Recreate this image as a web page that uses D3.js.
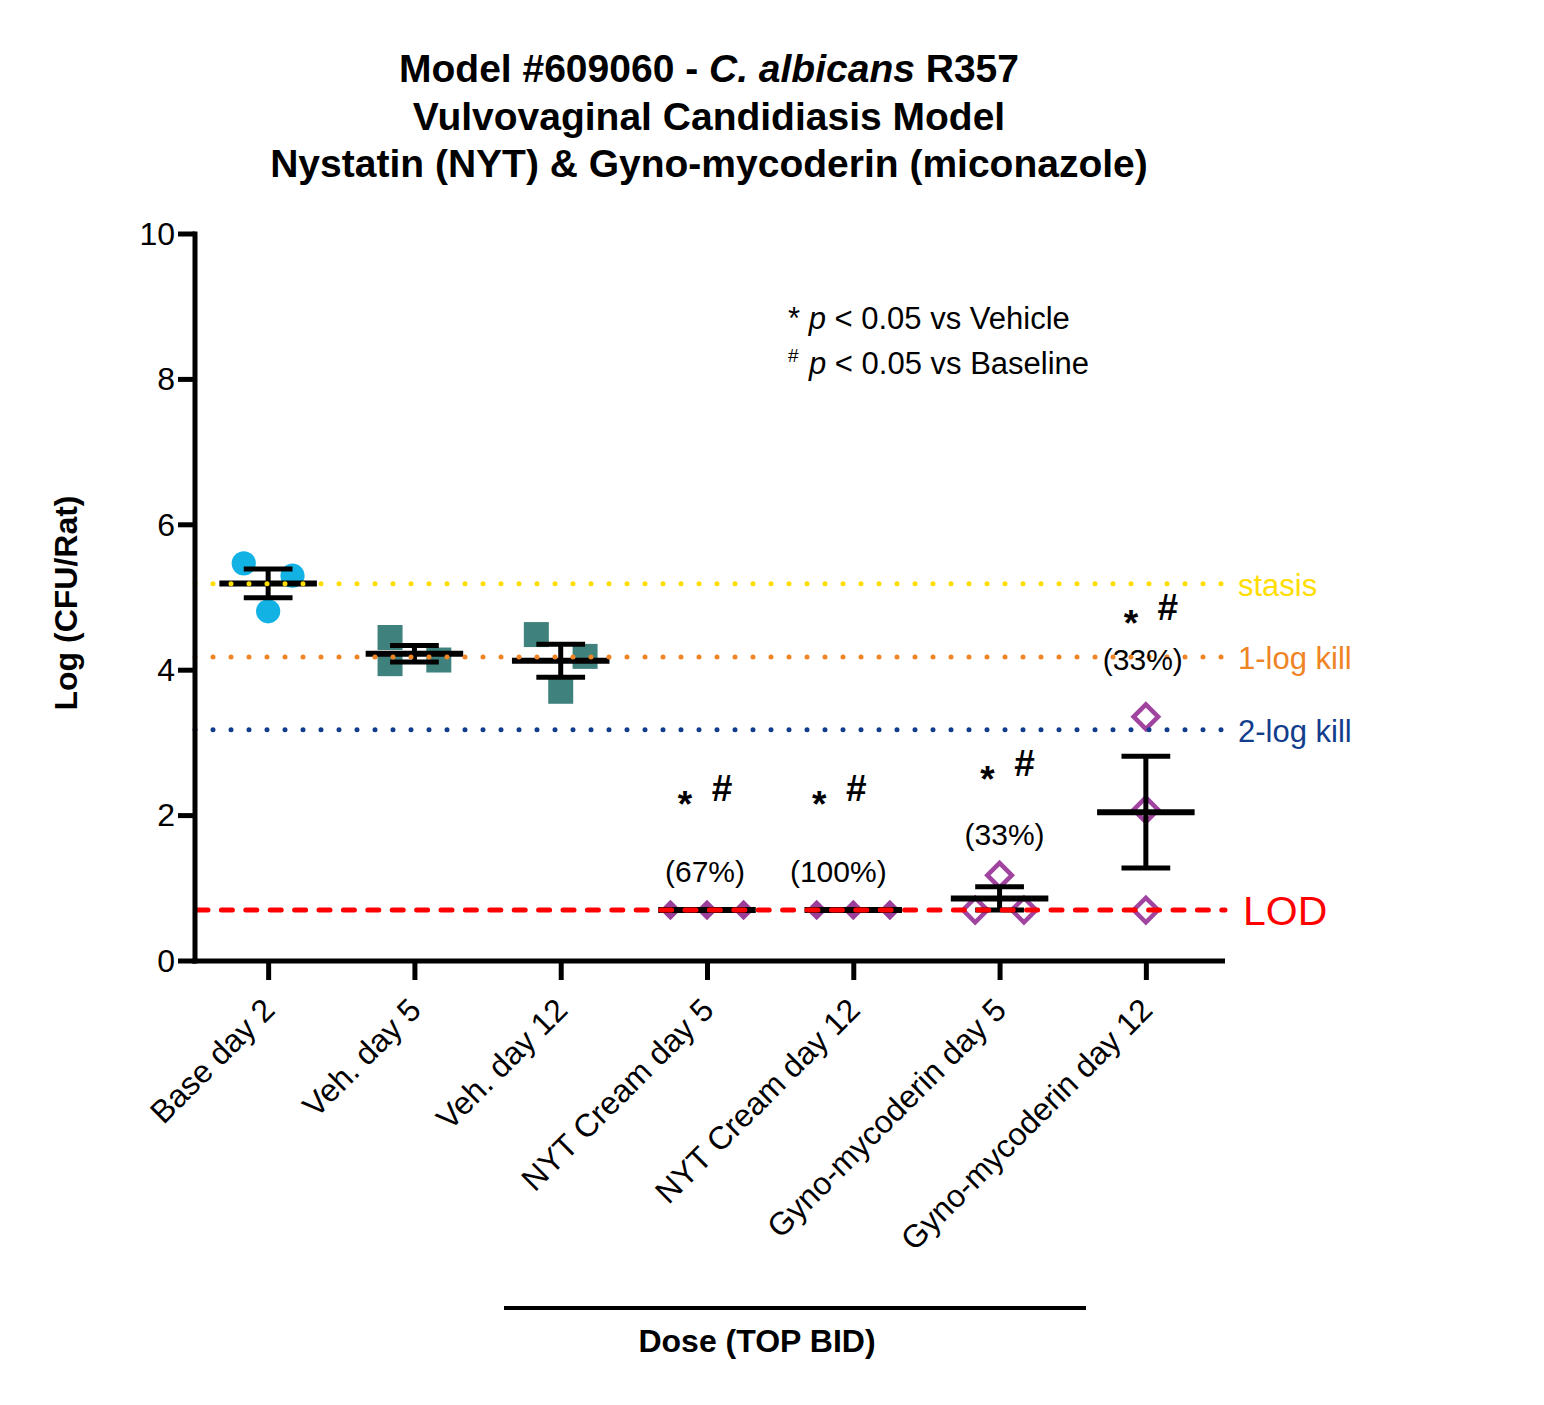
<!DOCTYPE html>
<html>
<head>
<meta charset="utf-8">
<script src="https://cdn.jsdelivr.net/npm/d3@7"></script>
<style>
  body { margin: 0; background: #fff; }
  text { font-family: "Liberation Sans", Arial, sans-serif; }
</style>
</head>
<body>
<svg id="chart" width="1544" height="1405"></svg>
<script>
// groups along the x axis
var categories = ["Base day 2", "Veh. day 5", "Veh. day 12", "NYT Cream day 5",
  "NYT Cream day 12", "Gyno-mycoderin day 5", "Gyno-mycoderin day 12"];

// log CFU / rat, one value per animal
var baseDay2 = [5.47, 5.30, 4.81];
var vehDay5 = [4.45, 4.09, 4.14];
var vehDay12 = [4.49, 4.19, 3.71];
var nytDay5 = [0.70, 0.70, 0.70];
var nytDay12 = [0.70, 0.70, 0.70];
var gynoDay5 = [1.18, 0.70, 0.70];
var gynoDay12 = [3.36, 2.08, 0.70];

var yTicks = [0, 2, 4, 6, 8, 10];

// reference levels
var refLevels = [5.19, 4.18, 3.18];
var refLabels = ["stasis", "1-log kill", "2-log kill"];
var lodLevel = 0.70;

// significance marks and % below LOD
var sigGroups = ["NYT Cream day 5", "NYT Cream day 12", "Gyno-mycoderin day 5", "Gyno-mycoderin day 12"];
var sigLevels = [2.20, 2.20, 2.545, 4.69];
var pctLabels = ["(67%)", "(100%)", "(33%)", "(33%)"];
var pctLevels = [1.09, 1.09, 1.595, 4.00];

// hand placement of the annotations (px, relative to the tick)
var sigNudge = [0, -12, 10, 7];
var pctNudge = [-2, -15, 5, -3];

var series = [baseDay2, vehDay5, vehDay12, nytDay5, nytDay12, gynoDay5, gynoDay12];

var refColors = ["#FFDD00", "#EE8424", "#123D8C"];
var lodColor = "#FF0000";
var markStyles = [
  { type: d3.symbolCircle, size: 460, fill: "#12B3E4", stroke: "none", rot: 0 },
  { type: d3.symbolSquare, size: 625, fill: "#3F827D", stroke: "none", rot: 0 },
  { type: d3.symbolSquare, size: 625, fill: "#3F827D", stroke: "none", rot: 0 },
  { type: d3.symbolSquare, size: 210, fill: "#9A3E9A", stroke: "none", rot: 45 },
  { type: d3.symbolSquare, size: 210, fill: "#9A3E9A", stroke: "none", rot: 45 },
  { type: d3.symbolSquare, size: 300, fill: "#fff", stroke: "#A044A0", rot: 45 },
  { type: d3.symbolSquare, size: 300, fill: "#fff", stroke: "#A044A0", rot: 45 }
];

var svg = d3.select("#chart");

var x = d3.scalePoint().domain(categories).range([195, 1219]).padding(0.5);
var y = d3.scaleLinear().domain([0, 10]).range([961, 234]);
var step = x.step();
var symSize = 25;

// simple column scatter: close values share a row and spread across the band
function swarm(values) {
  var order = d3.range(values.length).sort(function (a, b) { return values[b] - values[a]; });
  var rows = [];
  order.forEach(function (i) {
    var row = rows[rows.length - 1];
    if (row && Math.abs(y(values[row[0]]) - y(values[i])) < symSize - 1) row.push(i);
    else rows.push([i]);
  });
  var off = [], placed = [];
  rows.forEach(function (row) {
    if (row.length > 1) {
      row.forEach(function (i, j) {
        off[i] = step * ((j + 1) / (row.length + 1) - 0.5);
        placed.push(i);
      });
    } else {
      var i = row[0];
      var cands = [0, -step / 6, step / 6, -step / 3, step / 3];
      var pick = cands.find(function (c) {
        return placed.every(function (p) {
          return Math.abs(off[p] - c) >= symSize || Math.abs(y(values[p]) - y(values[i])) >= symSize;
        });
      });
      off[i] = pick === undefined ? 0 : pick;
      placed.push(i);
    }
  });
  return off;
}

// title
var title = svg.append("text")
  .attr("text-anchor", "middle")
  .attr("font-weight", "bold")
  .attr("font-size", 39);
var t1 = title.append("tspan").attr("x", 709).attr("y", 82);
t1.append("tspan").text("Model #609060 - ");
t1.append("tspan").attr("font-style", "italic").text("C. albicans");
t1.append("tspan").text(" R357");
title.append("tspan").attr("x", 709).attr("y", 130).text("Vulvovaginal Candidiasis Model");
title.append("tspan").attr("x", 709).attr("y", 177).text("Nystatin (NYT) & Gyno-mycoderin (miconazole)");

// points
series.forEach(function (vals, gi) {
  var cx = x(categories[gi]);
  var st = markStyles[gi];
  var off = swarm(vals);
  var sym = d3.symbol().type(st.type).size(st.size);
  svg.append("g").selectAll("path")
    .data(vals)
    .join("path")
    .attr("d", sym)
    .attr("transform", function (d, i) {
      return "translate(" + (cx + off[i]) + "," + y(d) + ") rotate(" + st.rot + ")";
    })
    .attr("fill", st.fill)
    .attr("stroke", st.stroke)
    .attr("stroke-width", st.stroke === "none" ? 0 : 4.5);
});

// mean and SEM
series.forEach(function (vals, gi) {
  var cx = x(categories[gi]);
  var m = d3.mean(vals);
  var sem = d3.deviation(vals) / Math.sqrt(vals.length);
  var g = svg.append("g").attr("stroke", "#000");
  g.append("line")
    .attr("x1", cx).attr("x2", cx)
    .attr("y1", y(m + sem)).attr("y2", y(m - sem))
    .attr("stroke-width", 5);
  [m + sem, m - sem].forEach(function (v) {
    g.append("line")
      .attr("x1", cx - step / 6).attr("x2", cx + step / 6)
      .attr("y1", y(v)).attr("y2", y(v))
      .attr("stroke-width", 5);
  });
  g.append("line")
    .attr("x1", cx - step / 3).attr("x2", cx + step / 3)
    .attr("y1", y(m)).attr("y2", y(m))
    .attr("stroke-width", 6);
});

// reference lines (drawn above the marks, as in the original)
refLevels.forEach(function (v, i) {
  svg.append("line")
    .attr("x1", 195).attr("x2", 1223)
    .attr("y1", y(v)).attr("y2", y(v))
    .attr("stroke", refColors[i])
    .attr("stroke-width", 5)
    .attr("stroke-linecap", "round")
    .attr("stroke-dasharray", "0 18");
  svg.append("text")
    .attr("x", 1238).attr("y", y(v) + 12)
    .attr("font-size", 31)
    .attr("fill", refColors[i])
    .text(refLabels[i]);
});
svg.append("line")
  .attr("x1", 197).attr("x2", 1225)
  .attr("y1", y(lodLevel)).attr("y2", y(lodLevel))
  .attr("stroke", lodColor)
  .attr("stroke-width", 5)
  .attr("stroke-linecap", "round")
  .attr("stroke-dasharray", "11 13.4");
svg.append("text")
  .attr("x", 1243).attr("y", y(lodLevel) + 15)
  .attr("font-size", 41)
  .attr("fill", lodColor)
  .text("LOD");

// y axis: labels from d3, heavy tick marks drawn from the same scale
var yAxis = svg.append("g")
  .attr("transform", "translate(195,0)")
  .call(d3.axisLeft(y).tickValues(yTicks).tickSize(0).tickSizeOuter(0).tickPadding(20));
yAxis.select(".domain").remove();
yAxis.selectAll(".tick line").remove();
yAxis.selectAll(".tick text").attr("font-size", 32).attr("fill", "#000")
  .attr("font-family", "'Liberation Sans', Arial, sans-serif");
yAxis.selectAll(".ytick")
  .data(yTicks)
  .join("rect")
  .attr("class", "ytick")
  .attr("x", -17).attr("width", 17)
  .attr("y", function (d) { return y(d) - 2.5; })
  .attr("height", 5)
  .attr("fill", "#000");
yAxis.append("rect")
  .attr("x", -2.5).attr("width", 5)
  .attr("y", y(10) - 2.5).attr("height", y(0) - y(10) + 5)
  .attr("fill", "#000");

// x axis
var xAxis = svg.append("g")
  .attr("transform", "translate(0,961)")
  .call(d3.axisBottom(x).tickSize(19).tickSizeOuter(0));
xAxis.select(".domain").remove();
xAxis.append("line")
  .attr("x1", 192.5).attr("x2", 1225)
  .attr("stroke", "#000").style("stroke-width", "5px");
xAxis.selectAll(".tick line").attr("stroke", "#000").style("stroke-width", "5px");
xAxis.selectAll(".tick text")
  .attr("x", 0).attr("y", 0).attr("dy", 0)
  .attr("text-anchor", "end")
  .attr("transform", "translate(8,51) rotate(-45)")
  .attr("font-size", 32).attr("fill", "#000")
  .attr("font-family", "'Liberation Sans', Arial, sans-serif");

// axis titles
svg.append("text")
  .attr("transform", "translate(77,603) rotate(-90)")
  .attr("text-anchor", "middle")
  .attr("font-weight", "bold")
  .attr("font-size", 32)
  .text("Log (CFU/Rat)");
svg.append("line")
  .attr("x1", 504).attr("x2", 1086)
  .attr("y1", 1308).attr("y2", 1308)
  .attr("stroke", "#000").attr("stroke-width", 4);
svg.append("text")
  .attr("x", 757).attr("y", 1352)
  .attr("text-anchor", "middle")
  .attr("font-weight", "bold")
  .attr("font-size", 32)
  .text("Dose (TOP BID)");

// significance annotations
sigGroups.forEach(function (gname, i) {
  var cx = x(gname) + sigNudge[i];
  var by = y(sigLevels[i]);
  svg.append("text")
    .attr("x", cx - 22).attr("y", by + 16)
    .attr("text-anchor", "middle")
    .attr("font-weight", "bold").attr("font-size", 37)
    .text("*");
  svg.append("text")
    .attr("x", cx + 15).attr("y", by)
    .attr("text-anchor", "middle")
    .attr("font-weight", "bold").attr("font-size", 37)
    .text("#");
  svg.append("text")
    .attr("x", x(gname) + pctNudge[i]).attr("y", y(pctLevels[i]))
    .attr("text-anchor", "middle")
    .attr("font-size", 30)
    .text(pctLabels[i]);
});

// key
var k1 = svg.append("text").attr("x", 788).attr("y", 329).attr("font-size", 31);
k1.append("tspan").text("* ");
k1.append("tspan").attr("font-style", "italic").text("p");
k1.append("tspan").text(" < 0.05 vs Vehicle");
var k2 = svg.append("text").attr("x", 788).attr("y", 374).attr("font-size", 31);
k2.append("tspan").attr("font-size", 19).attr("dy", -12).text("#");
k2.append("tspan").attr("x", 809).attr("dy", 12).attr("font-style", "italic").text("p");
k2.append("tspan").text(" < 0.05 vs Baseline");
</script>
</body>
</html>
